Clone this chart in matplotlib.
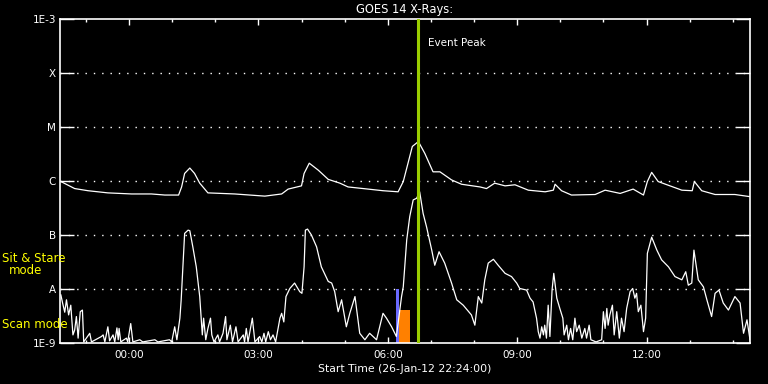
import numpy as np
import matplotlib
matplotlib.use('Agg')
import matplotlib.pyplot as plt

# Time axis: hours after 27-Jan-12 00:00 (start 22:24 on 26-Jan)
t_start = -1.6
t_end = 14.4

# Long channel (1-8 A), log10 W/m^2
long_t = [-1.58, -1.26, -0.95, -0.49, 0.06, 0.52, 0.83, 1.15, 1.22, 1.29, 1.41, 1.52, 1.64,
          1.83, 2.45, 2.80, 3.15, 3.54, 3.69, 4.00, 4.06, 4.18, 4.39, 4.62, 4.89, 5.08,
          5.43, 5.89, 6.24, 6.36, 6.47, 6.57, 6.71, 6.86, 7.05, 7.21, 7.48, 7.71, 8.14,
          8.29, 8.48, 8.72, 8.95, 9.26, 9.65, 9.84, 9.88, 10.03, 10.26, 10.81, 11.04,
          11.39, 11.69, 11.93, 12.02, 12.12, 12.27, 12.82, 13.06, 13.11, 13.28, 13.59,
          14.05, 14.40]
long_log = [-6.01, -6.14, -6.18, -6.22, -6.24, -6.24, -6.26, -6.26, -6.11, -5.86, -5.76,
            -5.86, -6.04, -6.22, -6.24, -6.26, -6.28, -6.24, -6.15, -6.09, -5.86, -5.67,
            -5.80, -5.97, -6.04, -6.11, -6.14, -6.18, -6.20, -6.01, -5.67, -5.36, -5.27,
            -5.49, -5.83, -5.83, -5.98, -6.06, -6.11, -6.14, -6.04, -6.09, -6.07, -6.17,
            -6.20, -6.17, -6.06, -6.18, -6.26, -6.25, -6.17, -6.23, -6.15, -6.26, -6.01,
            -5.84, -6.01, -6.17, -6.18, -6.01, -6.18, -6.25, -6.25, -6.29]

# Short channel (0.5-4 A), log10 W/m^2
short_t = [-1.58, -1.54, -1.49, -1.45, -1.40, -1.35, -1.30, -1.26, -1.22, -1.18, -1.13,
           -1.08, -1.05, -0.91, -0.87, -0.64, -0.60, -0.56, -0.49, -0.45, -0.37, -0.33,
           -0.28, -0.25, -0.23, -0.19, -0.06, -0.03, 0.04, 0.09, 0.25, 0.32, 0.60, 0.67,
           0.94, 0.99, 1.06, 1.11, 1.18, 1.21,
           1.25, 1.29, 1.37, 1.41, 1.48, 1.56, 1.64,
           1.70, 1.73, 1.78, 1.83, 1.89, 1.92, 1.97, 2.06, 2.10, 2.18, 2.24, 2.27, 2.35,
           2.40, 2.48, 2.53, 2.65, 2.68, 2.72, 2.76, 2.86, 2.92, 3.03, 3.08, 3.13, 3.17,
           3.23, 3.28, 3.34, 3.40, 3.50, 3.54, 3.59, 3.64, 3.73,
           3.84, 3.96, 4.01, 4.06, 4.09, 4.14, 4.23, 4.35, 4.46, 4.62, 4.70, 4.77, 4.85,
           4.93, 5.04, 5.12, 5.24, 5.35, 5.47, 5.58, 5.74, 5.89, 5.97, 6.09, 6.20, 6.32,
           6.36, 6.44, 6.51, 6.59, 6.67, 6.74, 6.82, 6.90, 7.02, 7.09, 7.19, 7.32, 7.48,
           7.60, 7.75, 7.94, 8.02, 8.10, 8.18, 8.25, 8.33, 8.45, 8.56, 8.72, 8.87, 8.99,
           9.06, 9.22, 9.30, 9.37, 9.45, 9.49, 9.53, 9.57, 9.61, 9.64, 9.68, 9.72, 9.76,
           9.81, 9.85, 9.92, 9.99, 10.06, 10.09, 10.15, 10.19, 10.24, 10.29, 10.34, 10.38,
           10.44, 10.50, 10.57, 10.61, 10.67, 10.71, 10.83, 10.96, 11.00, 11.04, 11.08,
           11.11, 11.15, 11.21, 11.25, 11.31, 11.37, 11.42, 11.48, 11.54, 11.62, 11.68,
           11.73, 11.77, 11.81, 11.87, 11.93, 11.98,
           12.02, 12.12, 12.24, 12.35, 12.51, 12.66, 12.82, 12.91, 12.97, 13.05, 13.10,
           13.20, 13.32, 13.40, 13.51, 13.59, 13.68, 13.78, 13.90, 14.05, 14.17, 14.25,
           14.33, 14.40]
short_log = [-8.11, -8.26, -8.43, -8.20, -8.48, -8.30, -8.85, -8.76, -8.51, -8.91, -8.42,
             -8.39, -8.98, -8.82, -8.98, -8.88, -8.85, -8.98, -8.70, -8.96, -8.85, -8.98,
             -8.72, -8.94, -8.73, -8.98, -8.91, -8.98, -8.64, -8.98, -8.94, -8.98, -8.94,
             -8.98, -8.94, -8.98, -8.70, -8.94, -8.54, -8.20,
             -7.59, -6.97, -6.91, -6.92, -7.22, -7.59, -8.14,
             -8.85, -8.54, -8.94, -8.73, -8.54, -8.85, -8.98, -8.85, -8.98, -8.82, -8.51,
             -8.94, -8.67, -8.98, -8.70, -8.98, -8.85, -8.98, -8.73, -8.98, -8.54, -8.98,
             -8.88, -8.98, -8.82, -8.98, -8.79, -8.94, -8.85, -8.98, -8.54, -8.45, -8.61,
             -8.14, -7.99,
             -7.89, -8.05, -8.08, -7.59, -6.91, -6.89, -7.00, -7.22, -7.59, -7.86, -7.89,
             -8.05, -8.42, -8.20, -8.70, -8.45, -8.14, -8.82, -8.94, -8.82, -8.94, -8.45,
             -8.54, -8.70, -8.88, -8.14, -7.96, -7.09, -6.66, -6.35, -6.32, -6.20, -6.60,
             -6.85, -7.28, -7.56, -7.31, -7.52, -7.89, -8.20, -8.30, -8.48, -8.67, -8.14,
             -8.26, -7.83, -7.52, -7.45, -7.56, -7.71, -7.77, -7.89,
             -7.99, -8.02, -8.17, -8.24, -8.54, -8.79, -8.91, -8.70, -8.85, -8.67, -8.91,
             -8.30, -8.88, -8.02, -7.71, -8.17, -8.36, -8.54, -8.85, -8.67, -8.94, -8.73,
             -8.94, -8.54, -8.79, -8.67, -8.91, -8.73, -8.91, -8.67, -8.94, -8.98, -8.94,
             -8.42, -8.73, -8.36, -8.67, -8.48, -8.30, -8.85, -8.42, -8.91, -8.54, -8.79,
             -8.36, -8.05, -7.99, -8.17, -8.08, -8.42, -8.30, -8.79, -8.54,
             -7.34, -7.04, -7.28, -7.46, -7.59, -7.77, -7.83, -7.68, -7.93, -7.89, -7.28,
             -7.83, -7.96, -8.20, -8.51, -8.08, -8.02, -8.26, -8.39, -8.14, -8.26, -8.82,
             -8.57, -8.94]

# Observation mode markers
sit_stare_span = (6.20, 6.27)
sit_stare_top = 1e-8
scan_span = (6.26, 6.51)
scan_top = 4.1e-9

event_peak = 6.69

flare_levels = [1e-3, 1e-4, 1e-5, 1e-6, 1e-7, 1e-8, 1e-9]
flare_labels = ['1E-3', 'X', 'M', 'C', 'B', 'A', '1E-9']
hour_ticks = [0, 3, 6, 9, 12]
hour_labels = ['00:00', '03:00', '06:00', '09:00', '12:00']

plt.rcParams['font.family'] = ['DejaVu Sans']

fig = plt.figure(figsize=(7.68, 3.84), dpi=100, facecolor='black')
ax = fig.add_axes([60 / 768, 41 / 384, 690 / 768, 324 / 384])
ax.set_facecolor('black')

# Dotted flare-class grid
for lev in flare_levels[1:-1]:
    ax.axhline(lev, color='white', lw=1.0, ls=(0, (1, 5)), zorder=1)

ax.bar(sit_stare_span[0], sit_stare_top - 1e-9, bottom=1e-9,
       width=sit_stare_span[1] - sit_stare_span[0], align='edge', color='#6a6aff', zorder=2)
ax.bar(scan_span[0], scan_top - 1e-9, bottom=1e-9,
       width=scan_span[1] - scan_span[0], align='edge', color='#ff8000', zorder=2)

ax.plot(long_t, 10 ** np.array(long_log), color='white', lw=0.9, zorder=3)
ax.plot(short_t, 10 ** np.array(short_log), color='white', lw=0.9, zorder=3)

ax.axvline(event_peak, color='#9acd00', lw=2.2, zorder=4)
ax.text(event_peak + 0.25, 10 ** -3.45, 'Event Peak', color='white', fontsize=7.5,
        va='center', ha='left')

ax.set_yscale('log')
ax.set_ylim(1e-9, 1e-3)
ax.set_xlim(t_start, t_end)

ax.set_yticks(flare_levels)
ax.set_yticklabels(flare_labels)
ax.yaxis.set_minor_locator(matplotlib.ticker.NullLocator())
ax.set_xticks(hour_ticks)
ax.set_xticklabels(hour_labels)
ax.set_xticks(np.arange(-1, 15, 1), minor=True)

ax.tick_params(axis='y', which='major', direction='in', length=10, width=1,
               color='white', labelcolor='white', labelsize=7.5, left=True, right=True, pad=3)
ax.tick_params(axis='x', which='major', direction='in', length=4.5, width=1,
               color='white', labelcolor='white', labelsize=7.5, top=True, bottom=True, pad=5)
ax.tick_params(axis='x', which='minor', direction='in', length=2.5, width=1,
               color='white', top=True, bottom=True)

for sp in ax.spines.values():
    sp.set_color('white')
    sp.set_linewidth(1.2)

ax.set_title('GOES 14 X-Rays:', color='white', fontsize=8.3, pad=4)
ax.set_xlabel('Start Time (26-Jan-12 22:24:00)', color='white', fontsize=7.8, labelpad=3)

fig.text(2 / 768, 1 - 258 / 384, 'Sit & Stare', color='yellow', fontsize=8.5,
         ha='left', va='center')
fig.text(26 / 768, 1 - 271 / 384, 'mode', color='yellow', fontsize=8.5,
         ha='center', va='center')
fig.text(2 / 768, 1 - 324 / 384, 'Scan mode', color='yellow', fontsize=8.5,
         ha='left', va='center')

fig.savefig('out.png', dpi=100, facecolor='black')
